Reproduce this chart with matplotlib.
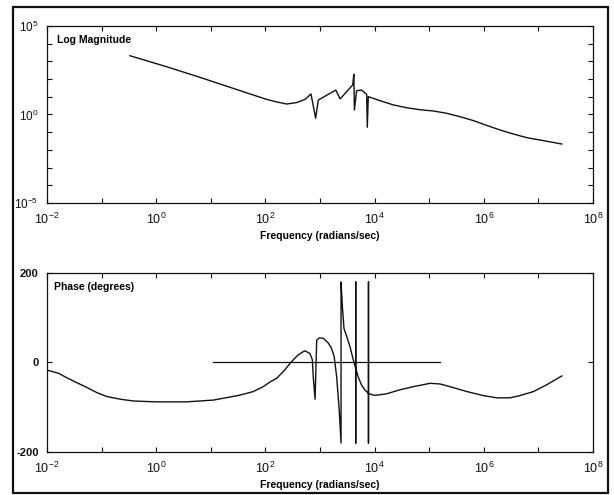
import matplotlib

matplotlib.use("Agg")

import matplotlib.pyplot as plt
from matplotlib.patches import Rectangle
from matplotlib.ticker import NullLocator

plt.rcParams["font.family"] = ["Liberation Sans", "DejaVu Sans"]
plt.rcParams["mathtext.fontset"] = "custom"
plt.rcParams["mathtext.rm"] = "Liberation Sans"
plt.rcParams["mathtext.it"] = "Liberation Sans"
plt.rcParams["mathtext.bf"] = "Liberation Sans:bold"
plt.rcParams["axes.unicode_minus"] = False

# magnitude response (rad/s, |G|)
mag_freq = [0.33, 1.55, 6.3, 25.7, 60, 105, 162, 245, 372, 537, 684, 832, 933,
            1950, 2340, 3980, 4170, 4270, 4680, 5750, 7160, 7350, 7670, 12600,
            21900, 38900, 67600, 119000, 209000, 363000, 646000, 1.12e6, 2.0e6,
            3.47e6, 6.17e6, 8.1e6, 1.41e7, 2.69e7]
mag_vals = [2090, 501, 126, 30, 12.6, 7.2, 5.1, 3.9, 4.7, 7.2, 14.5, 0.62, 6.6,
            24, 7.6, 47, 186, 1.8, 22, 24, 13.8, 0.19, 10.2, 6.0,
            3.5, 2.4, 1.86, 1.58, 1.17, 0.76, 0.45, 0.245, 0.132,
            0.079, 0.049, 0.042, 0.031, 0.0214]

# phase response (rad/s, degrees), wraps drawn as vertical jumps
phase_freq = [0.01, 0.0162, 0.023, 0.035, 0.054, 0.081, 0.124, 0.219, 0.38, 1.0,
              3.6, 11.2, 34, 60, 91, 120, 162, 214, 302, 398, 490, 531, 656,
              724, 753, 813, 841, 871, 977, 1150, 1410, 1620, 1820, 2020, 2250,
              2430, 2430, 2570, 2750, 3090, 3550, 4070,
              4510, 4510, 4510, 4510, 5010, 5750, 6610,
              7730, 7730, 7730, 7730, 9460, 10900, 16600, 29200, 51300, 104000,
              158000, 240000, 490000, 977000, 1.74e6, 3.02e6, 4.57e6, 8.1e6,
              1.41e7, 2.69e7]
phase_vals = [-17, -24, -34, -45, -56, -67, -76, -82, -86, -88,
              -88, -84, -73, -65, -54, -44, -35, -20, 2, 17, 24, 26, 20,
              6, -32, -82, -17, 50, 55, 54, 44, 32, 13, -32, -106,
              -180, 180, 125, 76, 58, 35, 6,
              -13, -180, 180, -13, -32, -50, -61,
              -69, -180, 180, -69, -73, -73, -70, -61, -54, -46.5,
              -48, -54, -65, -74, -79, -79, -74, -65,
              -50, -30]

# reference line at 0 degrees
ref_freq = [10.8, 1.6e5]
ref_vals = [0, 0]

INK = "#111111"


def style(ax):
    ax.set_xscale("log")
    ax.set_xlim(1e-2, 1e8)
    ax.set_xticks([10.0 ** k for k in range(-2, 9)])
    ax.set_xticklabels([f"$10^{{{k}}}$" if k % 2 == 0 else "" for k in range(-2, 9)], fontsize=9)
    ax.xaxis.set_minor_locator(NullLocator())
    ax.tick_params(direction="in", top=True, right=True, length=3.5, width=0.8, colors=INK, pad=6)
    for s in ax.spines.values():
        s.set_linewidth(0.9)
        s.set_color(INK)
    ax.set_xlabel("Frequency (radians/sec)", fontsize=7.5, weight="bold", labelpad=3)


fig = plt.figure(figsize=(6.14, 4.95), dpi=100)
fig.patch.set_facecolor("white")

ax = fig.add_axes([0.0765, 0.5899, 0.8893, 0.3576])
ax.plot(mag_freq, mag_vals, color=INK, linewidth=1.0)
ax.set_yscale("log")
ax.set_ylim(1e-5, 1e5)
style(ax)
ax.set_yticks([10.0 ** k for k in range(-5, 6)])
ax.set_yticklabels([f"$10^{{{k}}}$" if k % 5 == 0 else "" for k in range(-5, 6)], fontsize=8.5)
ax.yaxis.set_minor_locator(NullLocator())
ax.text(0.018, 0.95, "Log Magnitude", transform=ax.transAxes, fontsize=7.5, weight="bold", va="top", ha="left")

ax = fig.add_axes([0.0765, 0.0869, 0.8893, 0.3616])
ax.plot(phase_freq, phase_vals, color=INK, linewidth=1.0)
ax.plot(ref_freq, ref_vals, color=INK, linewidth=0.9)
ax.set_ylim(-200, 200)
style(ax)
ax.set_yticks([-200, 0, 200])
ax.set_yticklabels(["-200", "0", "200"], fontsize=8, weight="bold")
ax.text(0.012, 0.95, "Phase (degrees)", transform=ax.transAxes, fontsize=7.5, weight="bold", va="top", ha="left")

fig.add_artist(Rectangle((0.0212, 0.004), 0.969, 0.982, transform=fig.transFigure,
                         fill=False, edgecolor=INK, linewidth=1.6))

fig.savefig("out.png", dpi=100, facecolor="white")
